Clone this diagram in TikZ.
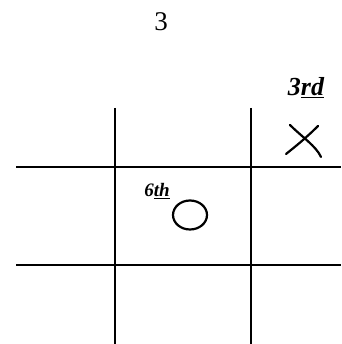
\documentclass[tikz,border=0pt]{standalone}
\usepackage{fontspec}
\setmainfont{Liberation Serif}
\begin{document}
\begin{tikzpicture}[x=1pt,y=1pt,
  gridline/.style={line width=2pt,black},
  ink/.style={line width=2.2pt,black,line cap=round,line join=round}]
\useasboundingbox (0,0) rectangle (341,344);
% page number
\node[font=\fontsize{27}{30}\selectfont] (pagenum) at (161,322) {3};
% grid
\draw[gridline] (115,236) -- (115,0);
\draw[gridline] (251,236) -- (251,0);
\draw[gridline] (16,177) -- (341,177);
\draw[gridline] (16,79) -- (341,79);
% 3rd X
\node[font=\itshape\bfseries\fontsize{26}{30}\selectfont] (third) at (306,256) {3\underline{rd}};
\draw[ink] (290,219) .. controls (302,207) and (316,198) .. (321,187);
\draw[ink] (318,218) .. controls (306,206) and (296,198) .. (286,190);
% 6th O
\node[font=\itshape\bfseries\fontsize{19}{22}\selectfont] (sixth) at (157,153) {6\underline{th}};
\draw[ink] (190,129) ellipse (17 and 14.5);
\end{tikzpicture}
\end{document}
